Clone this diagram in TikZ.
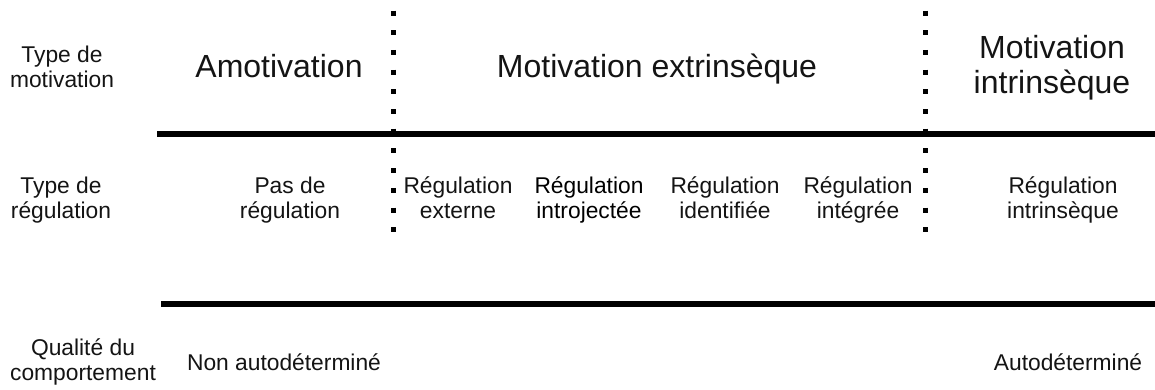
\documentclass[tikz,border=0pt]{standalone}
\usepackage{fontspec}
\setmainfont{Liberation Sans}
\begin{document}
\begin{tikzpicture}[x=1pt,y=-1pt,
  small/.style={inner sep=0pt, align=center, font=\fontsize{22.8}{25}\selectfont, text=black!92,
    execute at begin node=\strut, execute at end node=\strut},
  big/.style={inner sep=0pt, align=center, font=\fontsize{32}{35}\selectfont, text=black!92,
    execute at begin node=\strut, execute at end node=\strut},
  rule/.style={line width=6pt},
  sep/.style={line width=5pt, dash pattern=on 5pt off 14.7pt}]
\useasboundingbox (0,0) rectangle (1155,389);
% separators
\coordinate (r1a) at (157,133.5);
\coordinate (r1b) at (1155,133.5);
\coordinate (r2a) at (161,304);
\coordinate (r2b) at (1155,304);
\coordinate (d1a) at (393.5,10.5);
\coordinate (d1b) at (393.5,236);
\coordinate (d2a) at (925,10.5);
\coordinate (d2b) at (925,236);
\draw[rule] (r1a) -- (r1b);
\draw[rule] (r2a) -- (r2b);
\draw[sep] (d1a) -- (d1b);
\draw[sep] (d2a) -- (d2b);
% row labels
\node[small] (tm) at (62,70.5) {Type de\\motivation};
\node[small] (tr) at (61,201) {Type de\\régulation};
\node[small] (qc) at (83,363.5) {Qualité du\\comportement};
% motivation types
\node[big] (amot) at (279,70.5) {Amotivation};
\node[big] (mext) at (657,70.5) {Motivation extrinsèque};
\node[big] (mint) at (1052,70) {Motivation\\intrinsèque};
% regulation types
\node[small] (pasreg) at (290,201) {Pas de\\régulation};
\node[small] (rext) at (458,201) {Régulation\\externe};
\node[small, text=black] (rintro) at (589,201) {Régulation\\introjectée};
\node[small] (rident) at (725,201) {Régulation\\identifiée};
\node[small] (rinteg) at (858,201) {Régulation\\intégrée};
\node[small] (rintr) at (1063,201) {Régulation\\intrinsèque};
% quality
\node[small] (nonauto) at (284,365) {Non autodéterminé};
\node[small] (auto) at (1068,365) {Autodéterminé};
\end{tikzpicture}
\end{document}
